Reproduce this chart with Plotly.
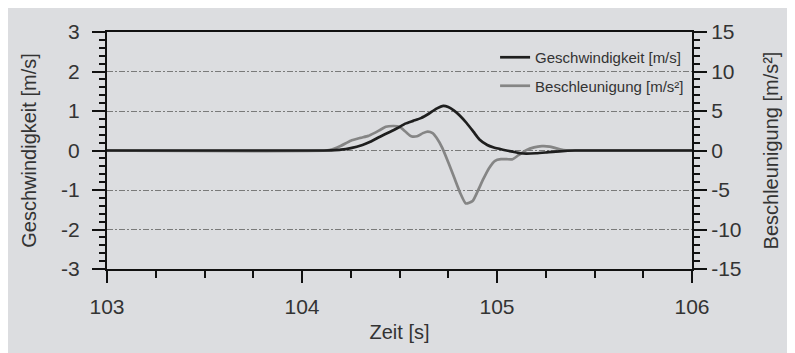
import plotly.graph_objects as go

# Data
t_v = [103.0, 104.10, 104.15, 104.20, 104.25, 104.31, 104.35, 104.40, 104.45, 104.49,
       104.53, 104.57, 104.61, 104.65, 104.69, 104.725, 104.75, 104.78, 104.81, 104.845,
       104.88, 104.91, 104.95, 104.98, 105.03, 105.08, 105.12, 105.15, 105.20, 105.25,
       105.32, 105.40, 106.0]
velocity = [0, 0, 0.005, 0.02, 0.06, 0.14, 0.22, 0.35, 0.47, 0.57,
            0.68, 0.75, 0.82, 0.93, 1.06, 1.13, 1.10, 1.01, 0.88, 0.69,
            0.47, 0.28, 0.14, 0.08, 0.02, -0.03, -0.07, -0.08, -0.07, -0.05,
            -0.02, 0, 0]

t_a = [103.0, 104.12, 104.16, 104.20, 104.25, 104.30, 104.34, 104.37, 104.40, 104.43,
       104.47, 104.50, 104.53, 104.56, 104.59, 104.62, 104.645, 104.67, 104.69, 104.72,
       104.75, 104.78, 104.81, 104.84, 104.875, 104.90, 104.93, 104.96, 104.99, 105.02,
       105.05, 105.08, 105.11, 105.15, 105.19, 105.23, 105.27, 105.30, 105.34, 105.38,
       106.0]
acceleration = [0, 0, 0.2, 0.6, 1.25, 1.6, 1.85, 2.2, 2.6, 3.0,
                3.1, 3.0, 2.4, 1.8, 1.8, 2.2, 2.4, 2.2, 1.6, 0.3,
                -1.5, -3.4, -5.3, -6.7, -6.4, -5.2, -3.6, -2.2, -1.3, -1.1,
                -1.1, -1.1, -0.6, 0.05, 0.4, 0.55, 0.5, 0.3, 0.05, 0,
                0]

x_range = [103, 106]
x_ticks = [103, 104, 105, 106]
v_range = [-3, 3]
v_ticks = [-3, -2, -1, 0, 1, 2, 3]
v_ticktext = ["-3", "-2", "-1", "0", "1", "2", "3"]
a_range = [-15, 15]
a_ticks = [-15, -10, -5, 0, 5, 10, 15]
a_ticktext = ["-15", "-10", "-5", "0", "5", "10", "15"]

FONT = "Liberation Sans, Arial, sans-serif"
TXT = "#333333"

fig = go.Figure()
fig.add_trace(go.Scatter(
    x=t_v, y=velocity, name="Geschwindigkeit [m/s]", mode="lines",
    line=dict(color="#1e1e1e", width=2.7, shape="spline", smoothing=0.5),
    yaxis="y2", legendgroup="v"))
fig.add_trace(go.Scatter(
    x=t_a, y=acceleration, name="Beschleunigung [m/s²]", mode="lines",
    line=dict(color="#858585", width=2.7, shape="spline", smoothing=0.5),
    yaxis="y", legendgroup="a"))

axis_common = dict(showline=True, linecolor="#111111", linewidth=2,
                   ticks="outside", tickcolor="#111111", tickwidth=2,
                   tickfont=dict(size=21, color=TXT, family=FONT),
                   zeroline=False, automargin=False)

fig.update_layout(
    width=787, height=345,
    margin=dict(l=99, r=103, t=24, b=84),
    paper_bgcolor="#dcdde0",
    plot_bgcolor="rgba(0,0,0,0)",
    font=dict(family=FONT, color=TXT),
    showlegend=True,
    legend=dict(x=0.995, xanchor="right", y=0.962, yanchor="top",
                bgcolor="rgba(0,0,0,0)", font=dict(size=15, color=TXT, family=FONT),
                tracegroupgap=6, traceorder="grouped"),
    xaxis=dict(range=x_range, tickvals=x_ticks, ticklen=12, mirror=True,
               showgrid=False, ticklabelstandoff=6,
               minor=dict(dtick=0.25, ticklen=7, tickwidth=2, tickcolor="#111111", showgrid=False),
               title=dict(text="Zeit [s]", font=dict(size=20, color=TXT, family=FONT), standoff=8),
               **axis_common),
    yaxis=dict(range=a_range, tickvals=a_ticks, ticktext=a_ticktext, side="right", ticklen=13,
               showgrid=True, gridcolor="#7a7a7a", gridwidth=1, griddash="6px,2px,2px,2px",
               minor=dict(dtick=1, ticklen=6, tickwidth=2, tickcolor="#111111", showgrid=False),
               title=dict(text="Beschleunigung [m/s²]", font=dict(size=20, color=TXT, family=FONT), standoff=23),
               **axis_common),
    yaxis2=dict(range=v_range, tickvals=v_ticks, ticktext=v_ticktext, side="left", overlaying="y", ticklen=13,
                showgrid=False, ticklabelstandoff=8,
                minor=dict(dtick=0.2, ticklen=6, tickwidth=2, tickcolor="#111111", showgrid=False),
                title=dict(text="Geschwindigkeit [m/s]", font=dict(size=20, color=TXT, family=FONT), standoff=19),
                **axis_common),
)

fig.write_html("out.html")
